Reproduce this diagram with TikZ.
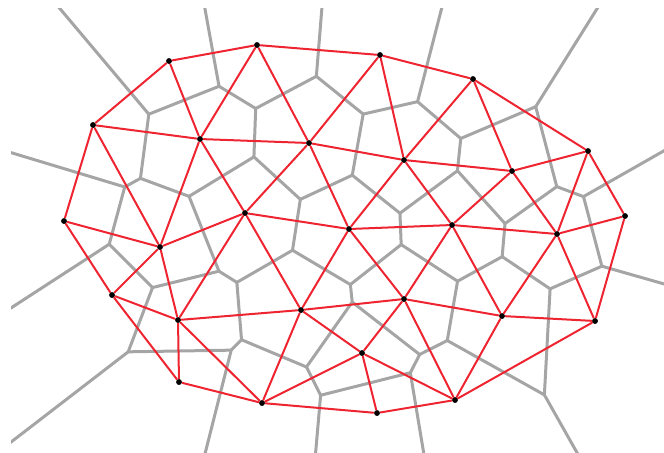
\documentclass[tikz,border=0pt]{standalone}
\usetikzlibrary{calc}
\definecolor{vgray}{RGB}{165,165,165}
\definecolor{dred}{RGB}{238,36,48}
\newcommand\defpt[3]{\expandafter\def\csname X#1\endcsname{#2}\expandafter\def\csname Y#1\endcsname{#3}}
\defpt{A}{1.69}{0.61}
\defpt{B}{2.57}{0.45}
\defpt{C}{3.80}{0.55}
\defpt{D}{4.73}{0.79}
\defpt{E}{0.93}{1.25}
\defpt{F}{2.00}{1.39}
\defpt{G}{3.09}{1.43}
\defpt{H}{4.04}{1.60}
\defpt{I}{5.12}{1.71}
\defpt{J}{5.88}{1.51}
\defpt{K}{0.64}{2.21}
\defpt{L}{2.45}{2.13}
\defpt{M}{3.49}{2.29}
\defpt{N}{4.52}{2.25}
\defpt{O}{5.57}{2.34}
\defpt{P}{6.25}{2.16}
\defpt{Q}{1.60}{2.47}
\defpt{R}{1.12}{2.95}
\defpt{S}{1.78}{3.20}
\defpt{T}{3.01}{3.10}
\defpt{U}{4.04}{2.99}
\defpt{V}{5.02}{3.16}
\defpt{W}{5.95}{3.21}
\defpt{X}{3.62}{3.53}
\defpt{Y}{1.79}{3.82}
\defpt{Z}{2.62}{4.03}
\defpt{a}{3.77}{4.13}
\defpt{b}{4.55}{4.00}
% circumcentre of triangle #2 #3 #4 -> coordinate #1
\newcommand\vorcc[4]{%
  \pgfmathsetmacro\ccax{\csname X#2\endcsname}%
  \pgfmathsetmacro\ccay{\csname Y#2\endcsname}%
  \pgfmathsetmacro\ccbx{\csname X#3\endcsname}%
  \pgfmathsetmacro\ccby{\csname Y#3\endcsname}%
  \pgfmathsetmacro\cccx{\csname X#4\endcsname}%
  \pgfmathsetmacro\cccy{\csname Y#4\endcsname}%
  \pgfmathsetmacro\ccd{2*(\ccax*(\ccby-\cccy)+\ccbx*(\cccy-\ccay)+\cccx*(\ccay-\ccby))}%
  \pgfmathsetmacro\ccsa{\ccax*\ccax+\ccay*\ccay}%
  \pgfmathsetmacro\ccsb{\ccbx*\ccbx+\ccby*\ccby}%
  \pgfmathsetmacro\ccsc{\cccx*\cccx+\cccy*\cccy}%
  \pgfmathsetmacro\ccux{(\ccsa*(\ccby-\cccy)+\ccsb*(\cccy-\ccay)+\ccsc*(\ccay-\ccby))/\ccd}%
  \pgfmathsetmacro\ccuy{(\ccsa*(\cccx-\ccbx)+\ccsb*(\ccax-\cccx)+\ccsc*(\ccbx-\ccax))/\ccd}%
  \coordinate (#1) at (\ccux,\ccuy);%
}
% outward ray for hull edge #2->#3 (clockwise) from circumcentre #1
\newcommand\vorray[3]{%
  \pgfmathsetmacro\rdx{\csname X#3\endcsname-\csname X#2\endcsname}%
  \pgfmathsetmacro\rdy{\csname Y#3\endcsname-\csname Y#2\endcsname}%
  \pgfmathsetmacro\rdl{veclen(\rdx,\rdy)}%
  \coordinate (r#2#3) at ($(#1)+(8*\rdy/\rdl,-8*\rdx/\rdl)$);%
  \draw[vor] (#1) -- (r#2#3);%
}
\tikzset{
  vor/.style={draw=vgray,line width=0.03cm,line cap=round,line join=round},
  del/.style={draw=dred,line width=0.02cm,line cap=round},
  dot/.style={circle,fill=black,inner sep=0pt,minimum size=0.055cm}
}
\begin{document}
\begin{tikzpicture}[x=1cm,y=-1cm]
\useasboundingbox (0,0) rectangle (6.64,4.52);
\foreach \n in {A,B,C,D,E,F,G,H,I,J,K,L,M,N,O,P,Q,R,S,T,U,V,W,X,Y,Z,a,b}
  \coordinate (c\n) at (\csname X\n\endcsname,\csname Y\n\endcsname);
\vorcc{t1}{A}{B}{F}
\vorcc{t2}{A}{E}{F}
\vorcc{t3}{B}{F}{G}
\vorcc{t4}{B}{C}{G}
\vorcc{t5}{C}{G}{H}
\vorcc{t6}{C}{D}{H}
\vorcc{t7}{D}{H}{I}
\vorcc{t8}{D}{I}{J}
\vorcc{t9}{E}{F}{Q}
\vorcc{t10}{E}{K}{Q}
\vorcc{t11}{F}{G}{L}
\vorcc{t12}{F}{L}{Q}
\vorcc{t13}{G}{L}{M}
\vorcc{t14}{G}{H}{M}
\vorcc{t15}{H}{M}{N}
\vorcc{t16}{H}{I}{N}
\vorcc{t17}{I}{J}{O}
\vorcc{t18}{I}{N}{O}
\vorcc{t19}{J}{O}{P}
\vorcc{t20}{K}{Q}{R}
\vorcc{t21}{Q}{R}{S}
\vorcc{t22}{Q}{L}{S}
\vorcc{t23}{L}{S}{T}
\vorcc{t24}{L}{M}{T}
\vorcc{t25}{M}{T}{U}
\vorcc{t26}{M}{N}{U}
\vorcc{t27}{N}{U}{V}
\vorcc{t28}{N}{O}{V}
\vorcc{t29}{O}{V}{W}
\vorcc{t30}{O}{P}{W}
\vorcc{t31}{R}{S}{Y}
\vorcc{t32}{S}{Y}{Z}
\vorcc{t33}{S}{T}{Z}
\vorcc{t34}{T}{X}{Z}
\vorcc{t35}{T}{U}{X}
\vorcc{t36}{U}{X}{b}
\vorcc{t37}{U}{V}{b}
\vorcc{t38}{V}{W}{b}
\vorcc{t39}{X}{Z}{a}
\vorcc{t40}{X}{a}{b}
\begin{scope}
\clip (0.11,0.08) rectangle (6.8,4.7);
\foreach \i/\j in {1/2,1/3,3/4,4/5,5/6,6/7,7/8,2/9,9/10,3/11,11/12,9/12,11/13,5/14,13/14,14/15,15/16,7/16,8/17,16/18,17/18,17/19,10/20,20/21,21/22,12/22,22/23,13/24,23/24,24/25,25/26,15/26,26/27,27/28,18/28,28/29,19/30,29/30,21/31,31/32,32/33,23/33,33/34,34/35,25/35,35/36,36/37,27/37,37/38,29/38,34/39,39/40,36/40}
  \draw[vor] (t\i) -- (t\j);
\vorray{t1}{A}{B}
\vorray{t4}{B}{C}
\vorray{t6}{C}{D}
\vorray{t8}{D}{J}
\vorray{t19}{J}{P}
\vorray{t30}{P}{W}
\vorray{t38}{W}{b}
\vorray{t40}{b}{a}
\vorray{t39}{a}{Z}
\vorray{t32}{Z}{Y}
\vorray{t31}{Y}{R}
\vorray{t20}{R}{K}
\vorray{t10}{K}{E}
\vorray{t2}{E}{A}
\end{scope}
\foreach \n in {A,B,C,D,E,F,G,H,I,J,K,L,M,N,O,P,Q,R,S,T,U,V,W,X,Y,Z,a,b}
  \node[dot] (\n) at (c\n) {};
\foreach \p/\q in {A/B,B/C,C/D,D/J,J/P,P/W,W/b,b/a,a/Z,Z/Y,Y/R,R/K,K/E,E/A,
  A/F,B/F,B/G,C/G,C/H,D/H,D/I,E/F,E/Q,F/G,F/L,F/Q,G/L,G/H,G/M,H/M,H/N,H/I,I/J,I/N,I/O,J/O,
  K/Q,Q/R,Q/S,Q/L,L/S,L/M,L/T,M/T,M/U,M/N,N/U,N/V,N/O,O/V,O/P,O/W,
  R/S,S/Y,S/Z,S/T,T/Z,T/X,T/U,U/X,U/b,U/V,V/b,V/W,X/Z,X/a,X/b}
  \draw[del] (\p) -- (\q);
\foreach \n in {A,B,C,D,E,F,G,H,I,J,K,L,M,N,O,P,Q,R,S,T,U,V,W,X,Y,Z,a,b}
  \node[dot] at (c\n) {};
\end{tikzpicture}
\end{document}
